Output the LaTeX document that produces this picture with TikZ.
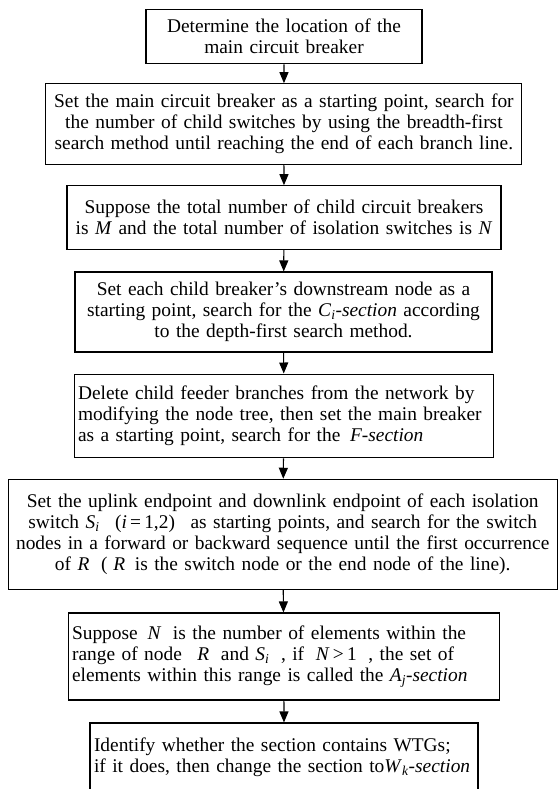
\documentclass[tikz,border=0pt]{standalone}
\usepackage{fontspec}
\setmainfont{Liberation Serif}
\usetikzlibrary{arrows.meta}
% italic symbol with an italic subscript
\newcommand\isub[2]{\textit{#1}\textsubscript{\textit{#2}}}

\begin{document}
\begin{tikzpicture}[x=1pt,y=-1pt,
  stepbox/.style={draw, line width=1.1pt, inner xsep=4pt, inner ysep=0pt,
    font=\fontsize{19.4}{21}\selectfont},
  flow/.style={line width=1.1pt, -{Triangle[width=9pt,length=11pt]}}]
\useasboundingbox (0,0) rectangle (558,789);

\node[stepbox, text width=268pt, minimum height=54.7pt, align=center] (b1) at (284,36.6)
  {Determine the location of the\\ main circuit breaker};

\node[stepbox, text width=468pt, minimum height=80.3pt, align=center] (b2) at (283.9,123.9)
  {\mbox{Set the main circuit breaker as a starting point, search for}\\
   \mbox{the number of child switches by using the breadth-first}\\
   \mbox{search method until reaching the end of each branch line.}};

\node[stepbox, text width=426pt, minimum height=63.3pt, align=center] (b3) at (284,217.4)
  {\mbox{Suppose the total number of child circuit breakers}\\
   \mbox{is \textit{M} and the total number of isolation switches is \textit{N}}};

\node[stepbox, text width=409pt, minimum height=80pt, align=center] (b4) at (283.5,312)
  {\mbox{Set each child breaker’s downstream node as a}\\
   \mbox{starting point, search for the \isub{C}{i}\textit{-section} according}\\
   \mbox{to the depth-first search method.}};

\node[stepbox, text width=411.7pt, minimum height=83.7pt, align=left] (b5) at (283.9,415.9)
  {\mbox{Delete child feeder branches from the network by}\\
   \mbox{modifying the node tree, then set the main breaker}\\
   \mbox{as a starting point, search for the\hspace{0.5em}\textit{F-section}}};

\node[stepbox, text width=540.7pt, minimum height=110pt, align=center] (b6) at (282.7,534.3)
  {\mbox{Set the uplink endpoint and downlink endpoint of each isolation}\\
   \mbox{switch \isub{S}{i}\hspace{0.8em}(\textit{i}\,=\,1,2)\hspace{0.8em}as starting points, and search for the switch}\\
   \mbox{nodes in a forward or backward sequence until the first occurrence}\\
   \mbox{of \textit{R}\hspace{0.6em}(\hspace{0.3em}\textit{R}\hspace{0.5em}is the switch node or the end node of the line).}};

\node[stepbox, text width=423.7pt, minimum height=87pt, align=left] (b7) at (283.9,656.5)
  {\mbox{Suppose\hspace{0.5em}\textit{N}\hspace{0.6em}is the number of elements within the}\\
   \mbox{range of node\hspace{0.8em}\textit{R}\hspace{0.6em}and \isub{S}{i}\hspace{0.6em}, if\hspace{0.6em}\textit{N}\,>\,1\hspace{0.6em}, the set of}\\
   \mbox{elements within this range is called the \isub{A}{j}\textit{-section}}};

\node[stepbox, text width=380pt, minimum height=68pt, align=left] (b8) at (284,757)
  {\mbox{Identify whether the section contains WTGs;}\\
   \mbox{if it does, then change the section to\isub{W}{k}\textit{-section}}};

\draw[flow] (b1) -- (b2);
\draw[flow] (b2) -- (b3);
\draw[flow] (b3) -- (b4);
\draw[flow] (b4) -- (b5);
\draw[flow] (b5) -- (b6);
\draw[flow] (b6) -- (b7);
\draw[flow] (b7) -- (b8);
\end{tikzpicture}
\end{document}
